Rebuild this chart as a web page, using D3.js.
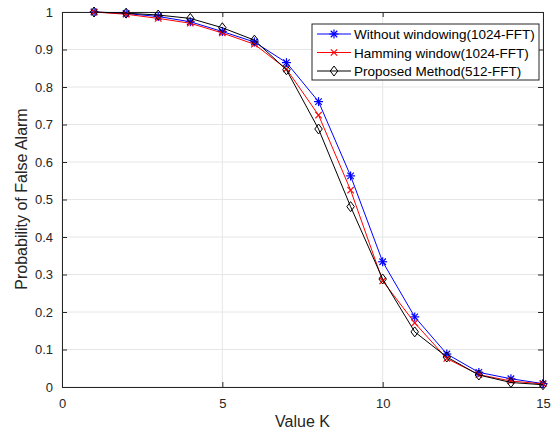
<!DOCTYPE html>
<html>
<head>
<meta charset="utf-8">
<script src="https://cdn.jsdelivr.net/npm/d3@7"></script>
<style>
  html, body { margin: 0; padding: 0; background: #fff; }
  svg { display: block; font-family: "Liberation Sans", Arial, Helvetica, sans-serif; }
</style>
</head>
<body>
<svg id="chart" width="559" height="435"></svg>
<script>
// Threshold K values on the horizontal axis
const kValues = [1, 2, 3, 4, 5, 6, 7, 8, 9, 10, 11, 12, 13, 14, 15];

// Probability of false alarm for each method
const withoutWindowing = [1.0, 0.996, 0.988, 0.974, 0.948, 0.920, 0.865, 0.761, 0.563, 0.334, 0.187, 0.088, 0.039, 0.022, 0.009];
const hammingWindow    = [1.0, 0.994, 0.983, 0.970, 0.944, 0.914, 0.848, 0.725, 0.525, 0.283, 0.171, 0.076, 0.033, 0.016, 0.008];
const proposedMethod   = [1.0, 0.997, 0.992, 0.983, 0.958, 0.925, 0.846, 0.688, 0.481, 0.288, 0.147, 0.080, 0.032, 0.012, 0.006];

const xTicks = [0, 5, 10, 15];
const yTicks = [0, 0.1, 0.2, 0.3, 0.4, 0.5, 0.6, 0.7, 0.8, 0.9, 1];

const seriesNames = ["Without windowing(1024-FFT)", "Hamming window(1024-FFT)", "Proposed Method(512-FFT)"];
const seriesColors = ["#0000ff", "#ff0000", "#000000"];
const seriesMarkers = ["star", "cross", "diamond"];
const seriesData = [withoutWindowing, hammingWindow, proposedMethod];

const svg = d3.select("#chart");
const plotLeft = 62, plotRight = 543, plotTop = 12, plotBottom = 387;

const x = d3.scaleLinear().domain([0, 15]).range([plotLeft, plotRight]);
const y = d3.scaleLinear().domain([0, 1]).range([plotBottom, plotTop]);

const axisColor = "#262626";

// grid
const grid = svg.append("g");
grid.selectAll("line.gx").data(xTicks).enter().append("line")
  .attr("x1", d => x(d)).attr("x2", d => x(d)).attr("y1", plotTop).attr("y2", plotBottom)
  .attr("stroke", "#e6e6e6").attr("stroke-width", 1);
grid.selectAll("line.gy").data(yTicks).enter().append("line")
  .attr("x1", plotLeft).attr("x2", plotRight).attr("y1", d => y(d)).attr("y2", d => y(d))
  .attr("stroke", "#e6e6e6").attr("stroke-width", 1);

// axes
const xAxis = d3.axisBottom(x).tickValues(xTicks).tickSize(-5).tickPadding(12).tickFormat(d3.format("d"));
const yAxis = d3.axisLeft(y).tickValues(yTicks).tickSize(-5).tickPadding(9).tickFormat(d => String(+d.toFixed(1)));
const xAxisTop = d3.axisTop(x).tickValues(xTicks).tickSize(-5).tickFormat("");
const yAxisRight = d3.axisRight(y).tickValues(yTicks).tickSize(-5).tickFormat("");

function styleAxis(g) {
  g.select(".domain").attr("stroke", axisColor).attr("stroke-width", 1);
  g.selectAll(".tick line").attr("stroke", axisColor);
  g.selectAll(".tick text").attr("fill", axisColor).style("font-size", "13px")
    .style("font-family", "'Liberation Sans', Arial, sans-serif");
}

svg.append("g").attr("transform", `translate(0,${plotBottom})`).call(xAxis).call(styleAxis);
svg.append("g").attr("transform", `translate(${plotLeft},0)`).call(yAxis).call(styleAxis);
svg.append("g").attr("transform", `translate(0,${plotTop})`).call(xAxisTop).call(styleAxis);
svg.append("g").attr("transform", `translate(${plotRight},0)`).call(yAxisRight).call(styleAxis);

// axis labels
svg.append("text").attr("x", (plotLeft + plotRight) / 2).attr("y", 427)
  .attr("text-anchor", "middle").attr("fill", axisColor).style("font-size", "16px")
  .text("Value K");
svg.append("text").attr("transform", `translate(27,199) rotate(-90)`)
  .attr("text-anchor", "middle").attr("fill", axisColor).style("font-size", "16px")
  .text("Probability of False Alarm");

// marker shapes
function drawMarker(g, type, cx, cy, color) {
  if (type === "star") {
    const r = 4.5;
    const p = g.append("g").attr("stroke", color).attr("stroke-width", 1.2);
    p.append("line").attr("x1", cx - r).attr("x2", cx + r).attr("y1", cy).attr("y2", cy);
    p.append("line").attr("x1", cx).attr("x2", cx).attr("y1", cy - r).attr("y2", cy + r);
    const d = r * 0.72;
    p.append("line").attr("x1", cx - d).attr("x2", cx + d).attr("y1", cy - d).attr("y2", cy + d);
    p.append("line").attr("x1", cx - d).attr("x2", cx + d).attr("y1", cy + d).attr("y2", cy - d);
  } else if (type === "cross") {
    const d = 3.2;
    const p = g.append("g").attr("stroke", color).attr("stroke-width", 1.2);
    p.append("line").attr("x1", cx - d).attr("x2", cx + d).attr("y1", cy - d).attr("y2", cy + d);
    p.append("line").attr("x1", cx - d).attr("x2", cx + d).attr("y1", cy + d).attr("y2", cy - d);
  } else {
    const r = 5;
    g.append("path")
      .attr("d", `M${cx},${cy - r}L${cx + r * 0.75},${cy}L${cx},${cy + r}L${cx - r * 0.75},${cy}Z`)
      .attr("fill", "none").attr("stroke", color).attr("stroke-width", 1);
  }
}

// series
const line = d3.line().x((d, i) => x(kValues[i])).y(d => y(d));
const plot = svg.append("g");
seriesData.forEach((vals, s) => {
  plot.append("path").datum(vals).attr("d", line)
    .attr("fill", "none").attr("stroke", seriesColors[s]).attr("stroke-width", 1);
  const mg = plot.append("g");
  vals.forEach((v, i) => drawMarker(mg, seriesMarkers[s], x(kValues[i]), y(v), seriesColors[s]));
});

// legend
const lg = svg.append("g");
const lx = 312, ly = 24, lw = 227, lh = 56;
lg.append("rect").attr("x", lx).attr("y", ly).attr("width", lw).attr("height", lh)
  .attr("fill", "#fff").attr("stroke", axisColor).attr("stroke-width", 1);
seriesNames.forEach((name, s) => {
  const yy = ly + 10 + s * 18.5;
  lg.append("line").attr("x1", lx + 5).attr("x2", lx + 39).attr("y1", yy).attr("y2", yy)
    .attr("stroke", seriesColors[s]).attr("stroke-width", 1);
  drawMarker(lg, seriesMarkers[s], lx + 22, yy, seriesColors[s]);
  lg.append("text").attr("x", lx + 42).attr("y", yy + 5).attr("fill", "#000")
    .style("font-size", "13.5px").text(name);
});
</script>
</body>
</html>
